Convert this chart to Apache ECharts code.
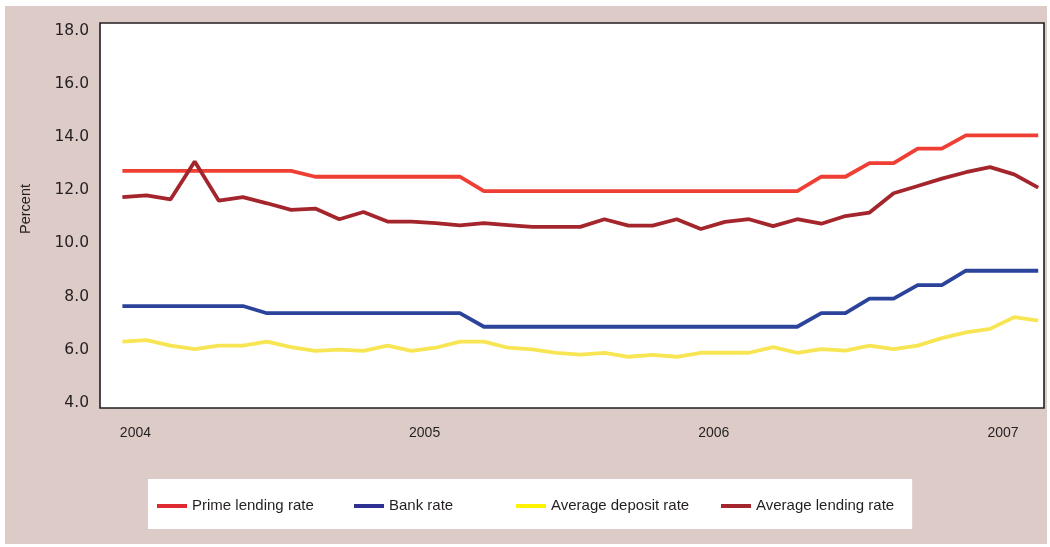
<!DOCTYPE html>
<html>
<head>
<meta charset="utf-8">
<script src="https://cdn.jsdelivr.net/npm/echarts@6/dist/echarts.min.js"></script>
<style>
  html, body { margin: 0; padding: 0; background: #ffffff; }
  #wrap { position: relative; width: 1050px; height: 547px; }
  #panel { position: absolute; left: 5px; top: 6px; width: 1042px; height: 538px; background: #ddcbc7; }
  #chart { position: absolute; left: 0; top: 0; width: 1050px; height: 547px; }
</style>
</head>
<body>
<div id="wrap">
  <div id="panel"></div>
  <div id="chart"></div>
</div>
<script>
// Monthly observations, January 2004 to March 2007
const months = [
  '2004-01','2004-02','2004-03','2004-04','2004-05','2004-06','2004-07','2004-08','2004-09','2004-10','2004-11','2004-12',
  '2005-01','2005-02','2005-03','2005-04','2005-05','2005-06','2005-07','2005-08','2005-09','2005-10','2005-11','2005-12',
  '2006-01','2006-02','2006-03','2006-04','2006-05','2006-06','2006-07','2006-08','2006-09','2006-10','2006-11','2006-12',
  '2007-01','2007-02','2007-03'
];

// Interest rates, percent
const primeLendingRate = [
  12.73, 12.73, 12.73, 12.73, 12.73, 12.73, 12.73, 12.73, 12.51, 12.51, 12.51, 12.51,
  12.51, 12.51, 12.51, 11.97, 11.97, 11.97, 11.97, 11.97, 11.97, 11.97, 11.97, 11.97,
  11.97, 11.97, 11.97, 11.97, 11.97, 12.51, 12.51, 13.02, 13.02, 13.57, 13.57, 14.07,
  14.07, 14.07, 14.07
];
const bankRate = [
  7.64, 7.64, 7.64, 7.64, 7.64, 7.64, 7.37, 7.37, 7.37, 7.37, 7.37, 7.37,
  7.37, 7.37, 7.37, 6.86, 6.86, 6.86, 6.86, 6.86, 6.86, 6.86, 6.86, 6.86,
  6.86, 6.86, 6.86, 6.86, 6.86, 7.37, 7.37, 7.92, 7.92, 8.43, 8.43, 8.97,
  8.97, 8.97, 8.97
];
const averageDepositRate = [
  6.30, 6.36, 6.15, 6.02, 6.15, 6.15, 6.30, 6.09, 5.95, 6.00, 5.95, 6.15,
  5.95, 6.07, 6.30, 6.30, 6.07, 6.01, 5.88, 5.81, 5.88, 5.73, 5.80, 5.73,
  5.88, 5.88, 5.88, 6.09, 5.88, 6.02, 5.96, 6.15, 6.02, 6.15, 6.43, 6.65,
  6.78, 7.22, 7.09
];
const averageLendingRate = [
  11.74, 11.81, 11.66, 13.08, 11.61, 11.74, 11.51, 11.26, 11.31, 10.91, 11.18, 10.82,
  10.82, 10.76, 10.68, 10.76, 10.69, 10.62, 10.62, 10.62, 10.91, 10.67, 10.67, 10.91,
  10.54, 10.81, 10.91, 10.65, 10.91, 10.74, 11.03, 11.16, 11.89, 12.16, 12.44, 12.68,
  12.87, 12.60, 12.10
];

// Axis ticks
const yTicks = [4, 6, 8, 10, 12, 14, 16, 18];
const yearTickIndex = [0, 12, 24, 36];
const yearLabels = ['2004', '2005', '2006', '2007'];

const seriesNames = ['Prime lending rate', 'Bank rate', 'Average deposit rate', 'Average lending rate'];
const lineColors = ['#ef3e33', '#2b439a', '#f7e553', '#a4262c'];
const legendColors = ['#dc2a2e', '#2e3192', '#fff200', '#a4262c'];
const legendTextWidths = [162, 127, 170, 138];

const TEXT = '#231f20';
const toPairs = arr => arr.map((v, i) => [i, v]);

const chart = echarts.init(document.getElementById('chart'), null, { renderer: 'canvas' });

chart.setOption({
  backgroundColor: 'transparent',
  animation: false,
  grid: {
    left: 100, right: 6, top: 23, bottom: 139,
    show: true, backgroundColor: '#ffffff',
    borderColor: TEXT, borderWidth: 1.6
  },
  xAxis: {
    type: 'value',
    min: -0.93,
    max: 38.24,
    axisLine: { show: false },
    axisTick: { show: false },
    splitLine: { show: false },
    axisLabel: {
      customValues: yearTickIndex,
      formatter: v => yearLabels[yearTickIndex.indexOf(v)],
      margin: 18,
      padding: [0, 0, 0, 26],
      color: TEXT,
      fontFamily: 'Liberation Sans, Arial, sans-serif',
      fontSize: 14
    }
  },
  yAxis: {
    type: 'value',
    min: 3.8,
    max: 18.3,
    name: 'Percent',
    nameLocation: 'middle',
    nameGap: 67,
    nameTextStyle: {
      color: TEXT,
      fontFamily: 'Liberation Sans, Arial, sans-serif',
      fontSize: 14.5,
      padding: [0, 0, 0, 13]
    },
    axisLine: { show: false },
    axisTick: { show: false },
    splitLine: { show: false },
    axisLabel: {
      customValues: yTicks,
      formatter: v => v.toFixed(1),
      margin: 11,
      color: TEXT,
      fontFamily: 'DejaVu Sans, sans-serif',
      fontSize: 15.5
    }
  },
  legend: {
    left: 148,
    top: 479,
    orient: 'horizontal',
    backgroundColor: '#ffffff',
    padding: [19, 18, 15, 9],
    itemGap: 0,
    itemWidth: 30,
    itemHeight: 4,
    icon: 'rect',
    selectedMode: false,
    textStyle: {
      color: TEXT,
      fontFamily: 'Liberation Sans, Arial, sans-serif',
      fontSize: 15,
      lineHeight: 16
    },
    data: seriesNames.map((name, i) => ({
      name,
      itemStyle: { color: legendColors[i] },
      textStyle: { width: legendTextWidths[i] }
    }))
  },
  series: seriesNames.map((name, i) => ({
    name,
    type: 'line',
    data: toPairs([primeLendingRate, bankRate, averageDepositRate, averageLendingRate][i]),
    showSymbol: false,
    symbol: 'none',
    lineStyle: { color: lineColors[i], width: 3.8 },
    itemStyle: { color: lineColors[i] },
    z: 2 + i
  }))
});
</script>
</body>
</html>
